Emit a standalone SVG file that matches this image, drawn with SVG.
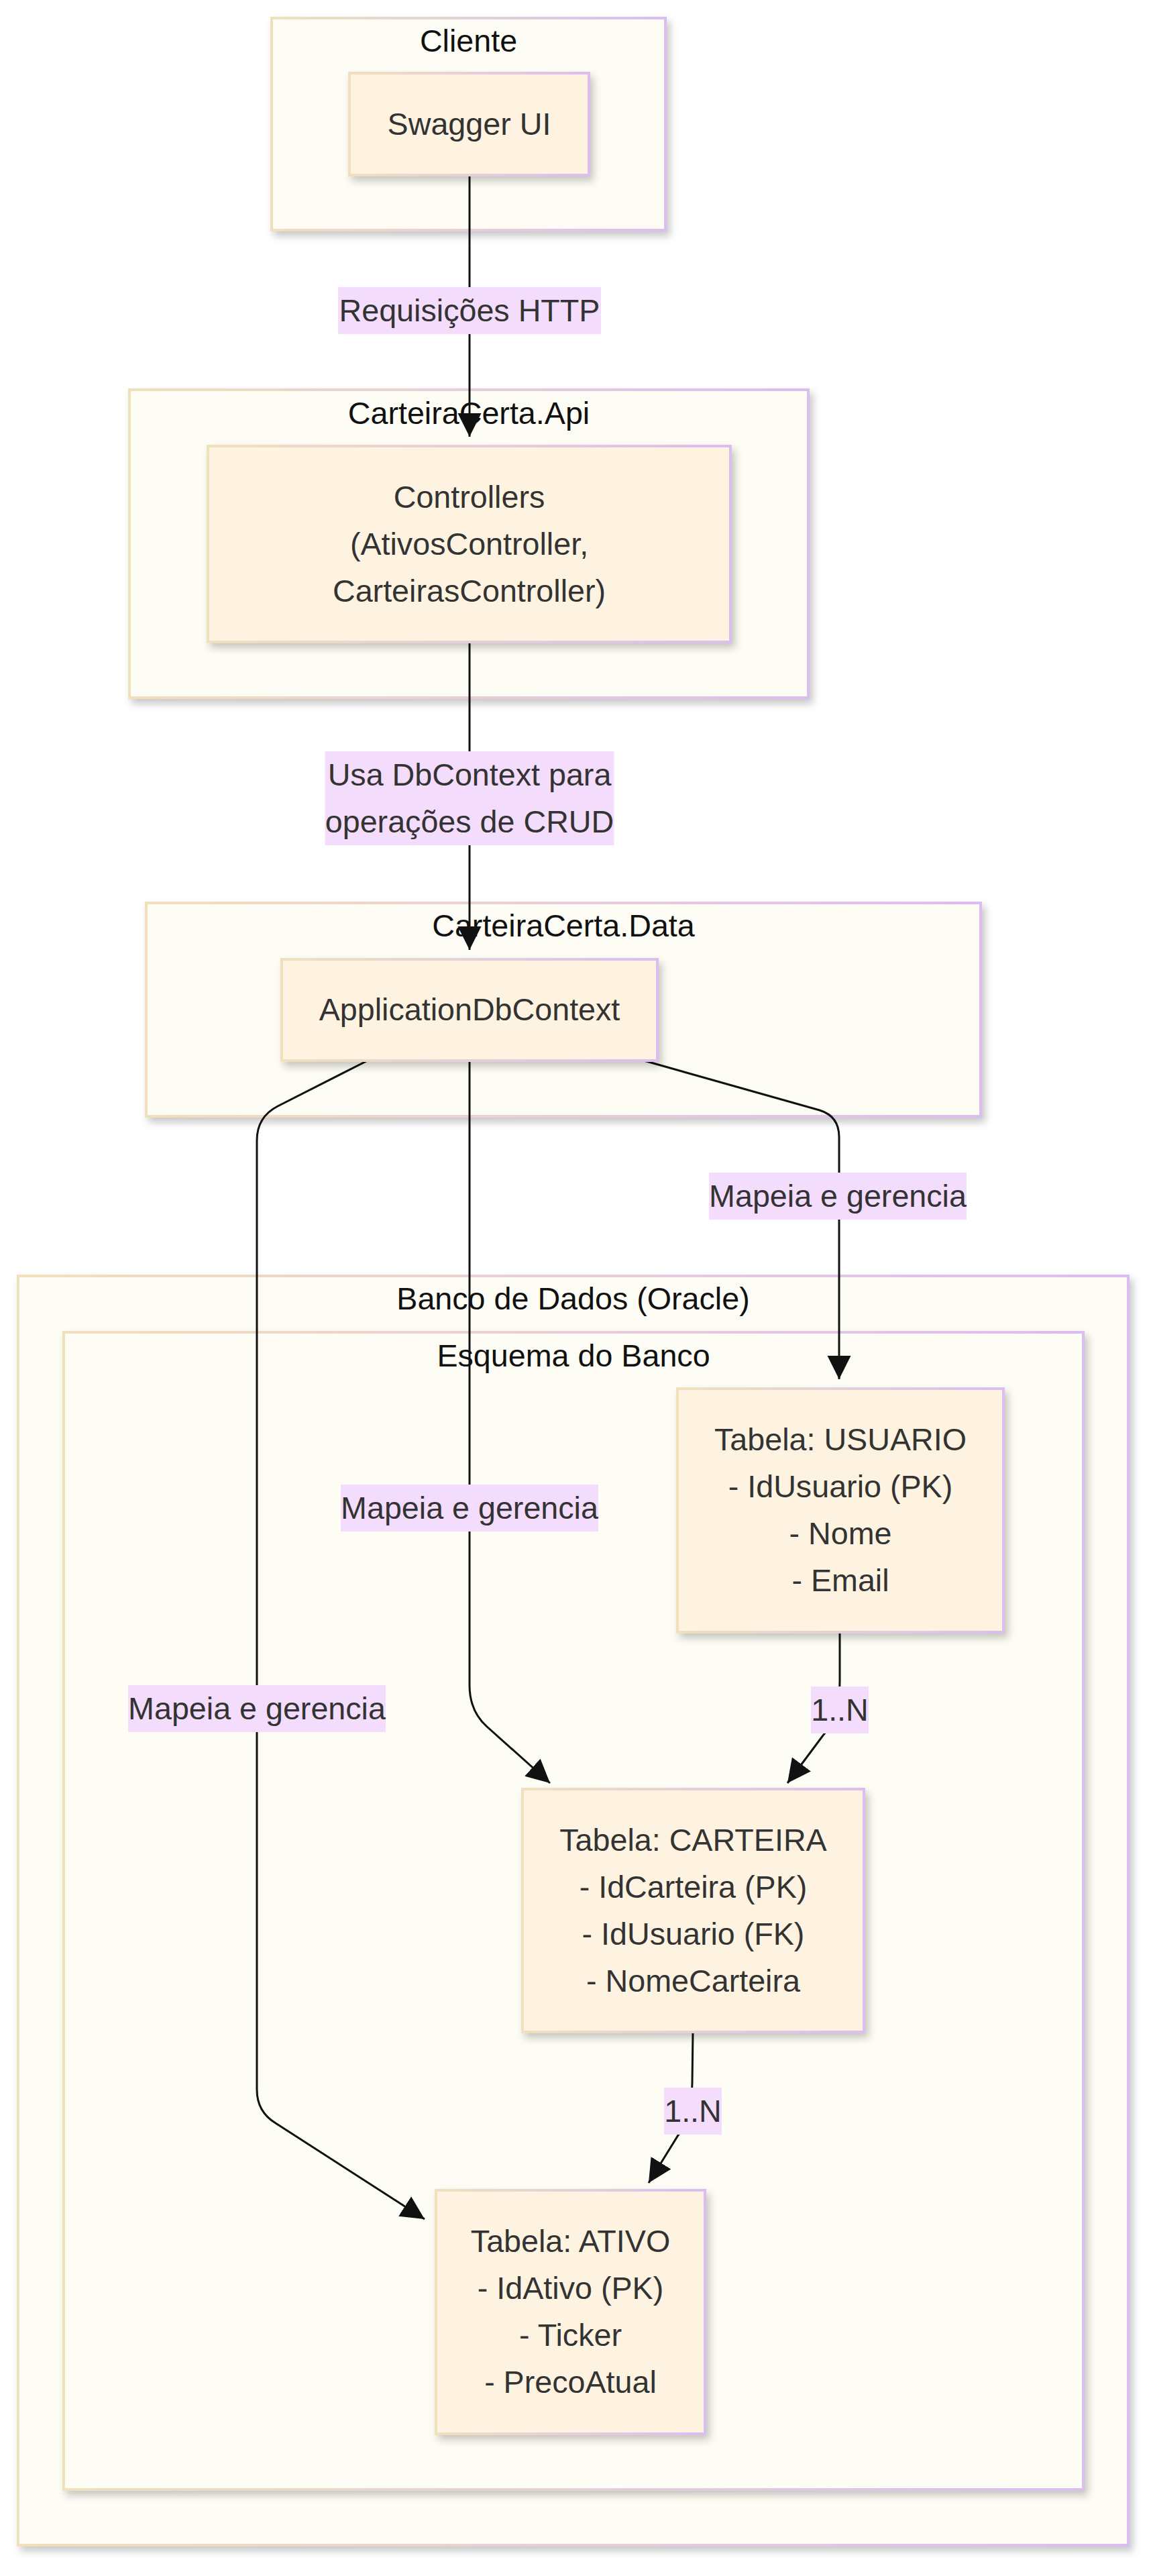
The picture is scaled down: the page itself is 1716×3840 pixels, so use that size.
<svg xmlns="http://www.w3.org/2000/svg" width="1716" height="3840" viewBox="0 0 1716 3840">
<defs>
<linearGradient id="bord" x1="0" y1="0" x2="1" y2="0">
<stop offset="0" stop-color="#f0e0bc"/>
<stop offset="0.5" stop-color="#e6cfd8"/>
<stop offset="1" stop-color="#dbbdf0"/>
</linearGradient>
<filter id="sh" x="-10%" y="-10%" width="125%" height="130%">
<feDropShadow dx="5" dy="7" stdDeviation="6" flood-color="#000" flood-opacity="0.22"/>
</filter>
<marker id="arr" viewBox="0 0 10 10" refX="10" refY="5" markerWidth="35" markerHeight="36" markerUnits="userSpaceOnUse" orient="auto">
<path d="M0,0 L10,5 L0,10 z" fill="#111"/>
</marker>
</defs>
<style>
.cl rect{fill:#fefdf5;stroke:url(#bord);stroke-width:4;filter:url(#sh)}
.cl text{font-family:"Liberation Sans",Arial,sans-serif;font-size:46.67px;fill:#111;text-anchor:middle}
.nd rect{fill:#fef3e0;stroke:url(#bord);stroke-width:4;filter:url(#sh)}
.nd text{font-family:"Liberation Sans",Arial,sans-serif;font-size:46.67px;fill:#333;text-anchor:middle}
.ed path{fill:none;stroke:#111;stroke-width:3;marker-end:url(#arr)}
.lb rect{fill:#f3dcfc}
.lb text{font-family:"Liberation Sans",Arial,sans-serif;font-size:46.67px;fill:#333;text-anchor:middle}
</style>
<rect width="1716" height="3840" fill="#ffffff"/>
<g id="clusters">
<g id="cluster-cliente" class="cl"><rect x="405" y="27" width="587" height="316"/><text x="698.5" y="77">Cliente</text></g>
<g id="cluster-api" class="cl"><rect x="193" y="581" width="1012" height="459"/><text x="699" y="632">CarteiraCerta.Api</text></g>
<g id="cluster-data" class="cl"><rect x="218" y="1346" width="1244" height="318"/><text x="840" y="1396">CarteiraCerta.Data</text></g>
<g id="cluster-banco" class="cl"><rect x="27" y="1902" width="1655" height="1892"/><text x="854.5" y="1952">Banco de Dados (Oracle)</text></g>
<g id="cluster-esquema" class="cl"><rect x="95" y="1986" width="1520" height="1725"/><text x="855" y="2037">Esquema do Banco</text></g>
</g>
<g id="edges" class="ed">
<path d="M700,261 L700,651"/>
<path d="M700,957 L700,1416"/>
<path d="M960,1581 L1222,1655 Q1251,1664 1251,1695 L1251,2056"/>
<path d="M700,1581 L700,2512 Q700,2550 725,2573 L820,2658"/>
<path d="M548,1581 L414,1649 Q383,1665 383,1700 L383,3115 Q383,3148 411,3165 L633,3308"/>
<path d="M1252,2433 L1252,2505 Q1252,2560 1227,2587 L1174,2658"/>
<path d="M1033,3029 L1032,3105 Q1031,3160 1011,3183 L967,3254"/>
</g>
<g id="edge-labels" class="lb">
<g><rect x="504" y="428" width="392" height="70"/><text x="700" y="479">Requisições HTTP</text></g>
<g><rect x="484.5" y="1120" width="431" height="140"/><text x="700" y="1171">Usa DbContext para</text><text x="700" y="1241">operações de CRUD</text></g>
<g><rect x="1057" y="1748" width="384" height="70"/><text x="1249" y="1799">Mapeia e gerencia</text></g>
<g><rect x="508" y="2213" width="384" height="70"/><text x="700" y="2264">Mapeia e gerencia</text></g>
<g><rect x="191" y="2512" width="384" height="70"/><text x="383" y="2563">Mapeia e gerencia</text></g>
<g><rect x="1209" y="2514" width="86" height="70"/><text x="1252" y="2565">1..N</text></g>
<g><rect x="990" y="3112" width="86" height="70"/><text x="1033" y="3163">1..N</text></g>
</g>
<g id="node-swagger" class="nd"><rect x="521" y="109" width="357" height="152"/><text x="699.5" y="201">Swagger UI</text></g>
<g id="node-controllers" class="nd"><rect x="310" y="665" width="779" height="292"/><text x="699.5" y="757">Controllers</text><text x="699.5" y="827">(AtivosController,</text><text x="699.5" y="897">CarteirasController)</text></g>
<g id="node-dbcontext" class="nd"><rect x="420" y="1430" width="560" height="151"/><text x="700" y="1521">ApplicationDbContext</text></g>
<g id="node-usuario" class="nd"><rect x="1010" y="2070" width="486" height="363"/><text x="1253" y="2162">Tabela: USUARIO</text><text x="1253" y="2232">- IdUsuario (PK)</text><text x="1253" y="2302">- Nome</text><text x="1253" y="2372">- Email</text></g>
<g id="node-carteira" class="nd"><rect x="779" y="2667" width="509" height="362"/><text x="1033.5" y="2759">Tabela: CARTEIRA</text><text x="1033.5" y="2829">- IdCarteira (PK)</text><text x="1033.5" y="2899">- IdUsuario (FK)</text><text x="1033.5" y="2969">- NomeCarteira</text></g>
<g id="node-ativo" class="nd"><rect x="650" y="3265" width="401" height="363"/><text x="850.5" y="3357">Tabela: ATIVO</text><text x="850.5" y="3427">- IdAtivo (PK)</text><text x="850.5" y="3497">- Ticker</text><text x="850.5" y="3567">- PrecoAtual</text></g>
</svg>
